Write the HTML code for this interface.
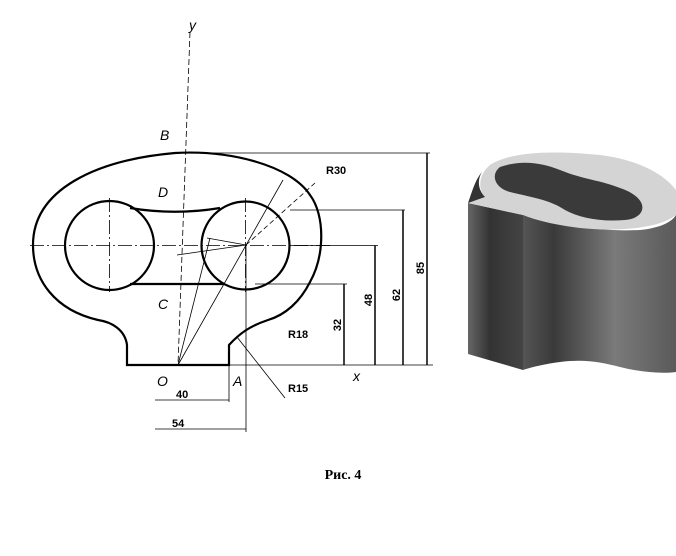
<!DOCTYPE html>
<html><head><meta charset="utf-8"><style>
body{margin:0;background:#fff;}
svg{display:block;}
</style></head><body>
<svg width="676" height="556" viewBox="0 0 676 556" xmlns="http://www.w3.org/2000/svg" font-family="Liberation Sans, sans-serif">
<defs>
<linearGradient id="g" x1="0" x2="1" y1="0" y2="0">
<stop offset="0" stop-color="#555"/><stop offset="0.2" stop-color="#3a3a3a"/><stop offset="0.6" stop-color="#7a7a7a"/><stop offset="1" stop-color="#5a5a5a"/>
</linearGradient>
<linearGradient id="h" x1="0" x2="1"><stop offset="0" stop-color="#666"/><stop offset="0.4" stop-color="#333"/><stop offset="1" stop-color="#444"/></linearGradient>
</defs>
<g fill="none" stroke="#000">
<path stroke-width="2.2" d="M127,365 L127,345 C125,330 112,322 98,320 C55,310 33,280 33,245 C33,190 95,160 175,153 C230,150 290,165 310,195 C325,215 325,255 310,282 C300,302 285,315 268,320 C250,326 240,333 229,345 L229,365 Z"/>
<circle cx="109.5" cy="245.5" r="44.5" stroke-width="2.2"/>
<circle cx="245.5" cy="245.5" r="44" stroke-width="2.2"/>
<path stroke-width="2.2" d="M130,208 C160,213 190,213 220,208"/>
<path stroke-width="2.2" d="M130,284 L225,284"/>
<g stroke-width="0.8" stroke-dasharray="14,3,2,3">
<line x1="30" y1="245.5" x2="330" y2="245.5"/>
<line x1="109.5" y1="198" x2="109.5" y2="292"/>
<line x1="245.5" y1="198" x2="245.5" y2="292"/>
<line x1="190" y1="32" x2="178" y2="365" stroke-dasharray="6,3"/>
<line x1="246" y1="245" x2="315" y2="183" stroke-dasharray="5,3"/>
</g>
<g stroke-width="0.8">
<line x1="200" y1="153" x2="430" y2="153"/>
<line x1="290" y1="210" x2="405" y2="210"/>
<line x1="290" y1="245.5" x2="378" y2="245.5"/>
<line x1="255" y1="284" x2="347" y2="284"/>
<line x1="229" y1="365" x2="433" y2="365"/>
<line x1="246" y1="245" x2="246" y2="432"/>
<line x1="229" y1="365" x2="229" y2="402"/>
<line x1="155" y1="400" x2="229" y2="400"/>
<line x1="155" y1="429" x2="246" y2="429"/>
<line x1="178" y1="365" x2="283" y2="180"/>
<line x1="178" y1="365" x2="210" y2="238"/>
<line x1="177" y1="255" x2="246" y2="245"/>
<line x1="207" y1="238" x2="246" y2="245"/>
<line x1="237" y1="337" x2="285" y2="398"/>
</g>
<g stroke-width="1.5">
<line x1="427" y1="153" x2="427" y2="365"/>
<line x1="403" y1="210" x2="403" y2="365"/>
<line x1="375" y1="245.5" x2="375" y2="365"/>
<line x1="344" y1="284" x2="344" y2="365"/>
</g>
</g>
<g font-size="11" font-weight="bold">
<text x="326" y="174">R30</text>
<text x="288" y="338">R18</text>
<text x="288" y="392">R15</text>
<text x="176" y="398">40</text>
<text x="172" y="427">54</text>
<text transform="translate(341,325) rotate(-90)" text-anchor="middle">32</text>
<text transform="translate(372,300) rotate(-90)" text-anchor="middle">48</text>
<text transform="translate(400,295) rotate(-90)" text-anchor="middle">62</text>
<text transform="translate(424,268) rotate(-90)" text-anchor="middle">85</text>
</g>
<g font-size="14" font-style="italic">
<text x="160" y="140">B</text><text x="158" y="197">D</text><text x="158" y="309">C</text>
<text x="157" y="386">O</text><text x="233" y="386">A</text><text x="353" y="381">x</text><text x="189" y="30">y</text>
</g>
<text x="343" y="479" style="font-family:'Liberation Serif',serif;font-weight:bold;font-size:14px" text-anchor="middle">Рис. 4</text>
<path fill="url(#g)" d="M523,215 C560,225 600,232 640,230 C660,228 672,222 676,215 L676,372 C660,374 640,372 620,367 C600,362 585,359 560,362 C545,364 532,367 523,370 Z"/>
<path fill="url(#h)" d="M468,203 L523,215 L523,370 L468,354 Z"/>
<path fill="#d4d4d4" d="M468,203 L485,197 C478,190 478,175 490,165 C510,152 550,150 600,155 C640,160 665,175 676,190 L676,215 C660,228 620,232 580,228 C555,225 535,220 523,215 Z"/>
<path fill="#3a3a3a" d="M500,167 C520,160 540,162 560,170 C585,180 600,180 620,188 C650,198 648,218 625,220 C600,222 580,218 565,210 C550,200 535,198 510,192 C495,188 490,175 500,167 Z"/>
<path fill="#333" d="M468,203 L485,197 C478,190 477,180 482,172 C475,180 472,192 468,203 Z"/>
</svg>
</body></html>
